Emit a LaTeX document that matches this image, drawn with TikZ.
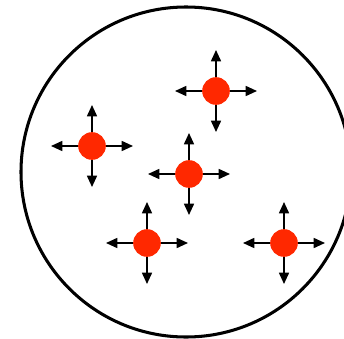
\documentclass[tikz,border=0pt]{standalone}
\usetikzlibrary{arrows.meta}
\definecolor{red1}{RGB}{255,40,0}

\begin{document}
\begin{tikzpicture}[x=0.03cm, y=-0.03cm,
    particle/.style={circle, fill=red1, inner sep=0pt, minimum size=0.83cm},
    velarrow/.style={-{Triangle[length=0.34cm, width=0.3cm]}, line width=1.4pt, black},
    container/.style={draw=black, line width=2.6pt}
]
        \useasboundingbox (0,0) rectangle (344,338);

        % container
        \draw[container] (186,172) circle (165);

        % particles
        \node[particle, name=p1] at(216,91) {};
        \node[particle, name=p2] at(92,146) {};
        \node[particle, name=p3] at(189,174) {};
        \node[particle, name=p4] at(147,243) {};
        \node[particle, name=p5] at(284,243) {};

        % velocity arrows
        \foreach \p in {p1,p2,p3,p4,p5}
        {
            \foreach \a in {0,90,180,270}
                \draw[velarrow] (\p) -- ++(\a:41);
        };

\end{tikzpicture}
\end{document}
